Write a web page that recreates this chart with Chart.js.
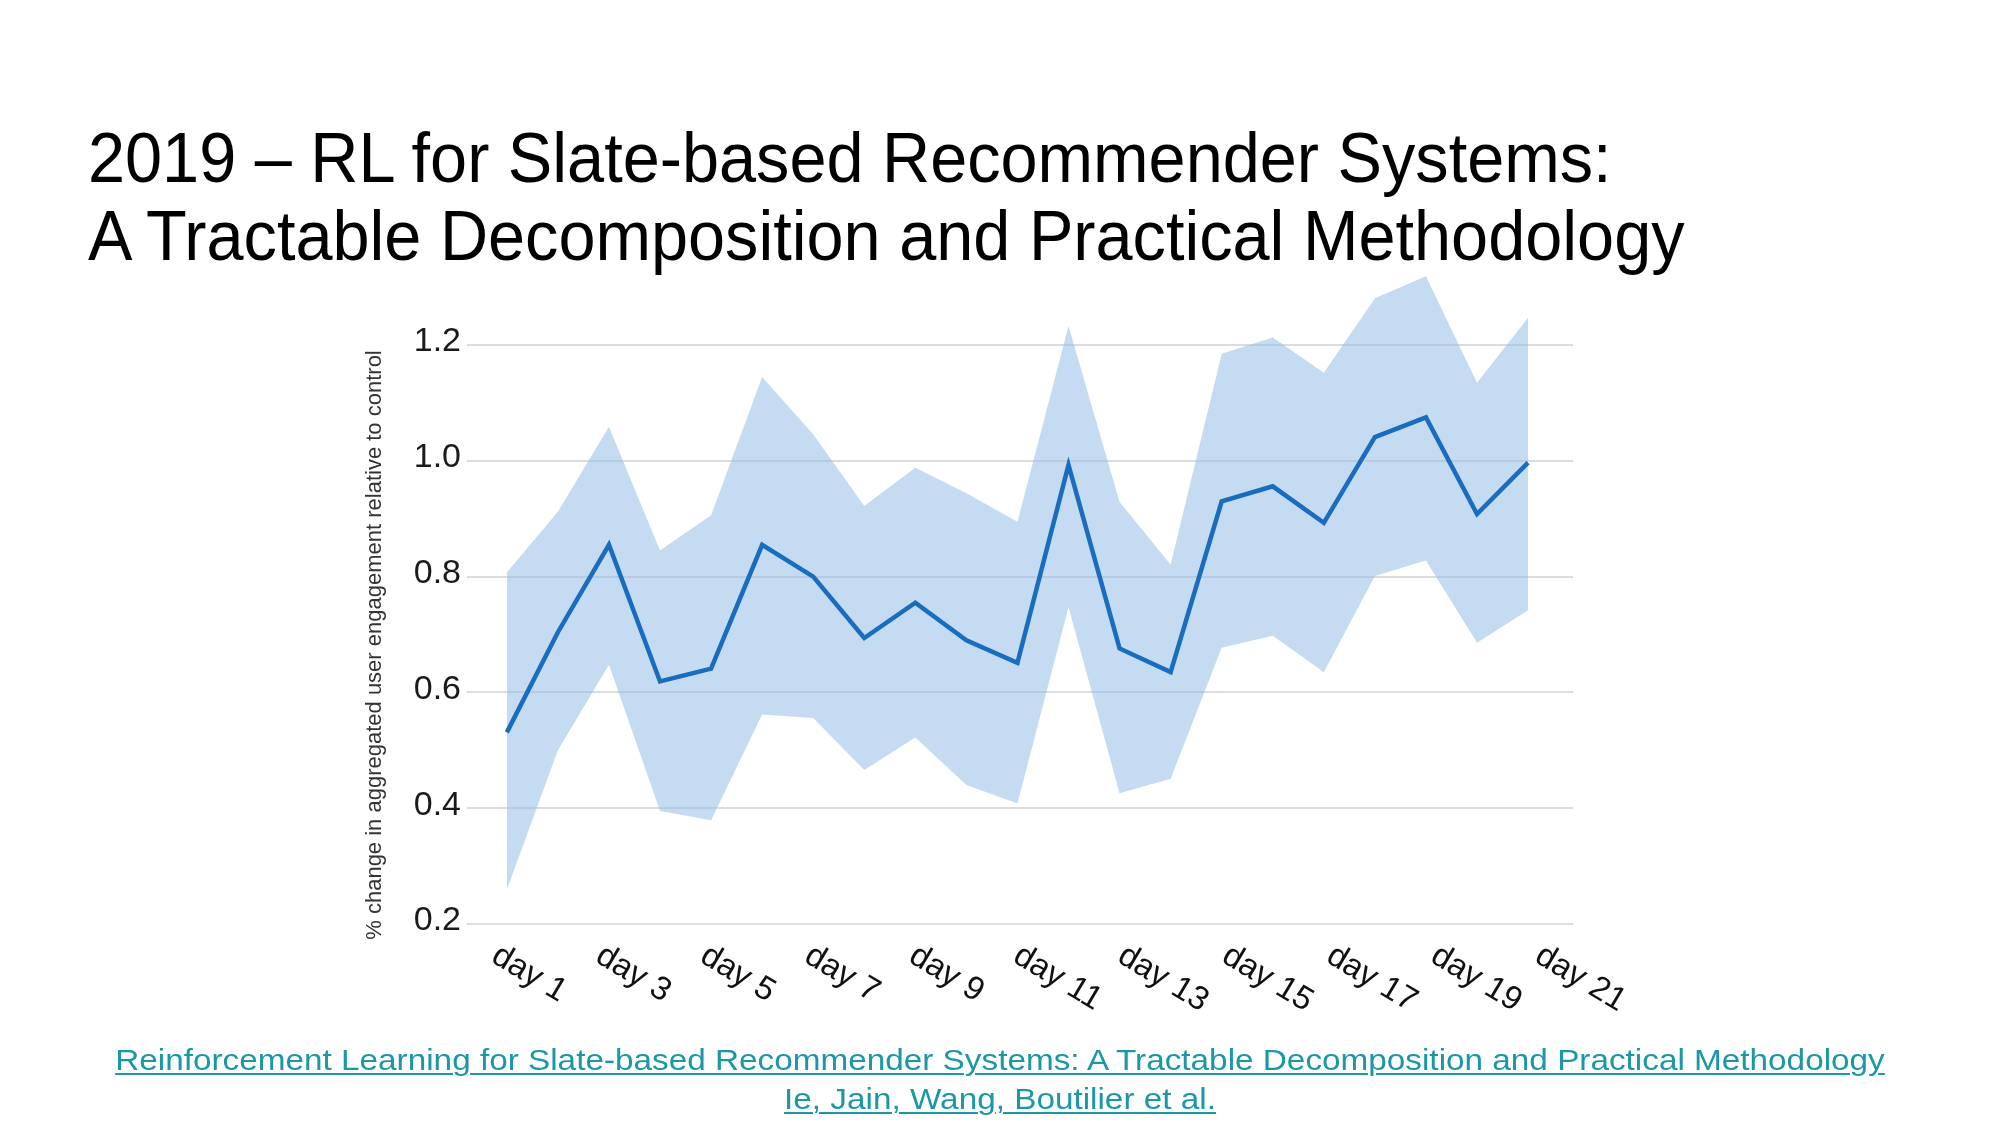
<!DOCTYPE html>
<html>
<head>
<meta charset="utf-8">
<script src="https://cdn.jsdelivr.net/npm/chart.js@4.4.1/dist/chart.umd.min.js"></script>
<style>
  html, body { margin: 0; padding: 0; background: #ffffff; }
  body { width: 2000px; height: 1125px; position: relative; overflow: hidden; font-family: "Liberation Sans", Arial, sans-serif; }
  #title { position: absolute; left: 88px; top: 119px; margin: 0; font-weight: normal; font-size: 70px; line-height: 78px; color: #000; white-space: nowrap; transform: scaleX(0.952); transform-origin: 0 0; }
  #chart { position: absolute; left: 0; top: 0; }
  #footer { position: absolute; left: -5px; width: 2010px; top: 1040px; text-align: center; font-size: 30px; line-height: 39px; color: #1b97a6; white-space: nowrap; transform: scaleX(1.11); transform-origin: 1005px 0; }
  #footer span { text-decoration: underline; text-decoration-thickness: 2px; text-underline-offset: 3px; }
</style>
</head>
<body>
<h1 id="title">2019 – RL for Slate-based Recommender Systems:<br>A Tractable Decomposition and Practical Methodology</h1>
<canvas id="chart" width="2000" height="1125"></canvas>
<div id="footer"><span>Reinforcement Learning for Slate-based Recommender Systems: A Tractable Decomposition and Practical Methodology</span><br><span>Ie, Jain, Wang, Boutilier et al.</span></div>
<script>
// ---- data ----
const days = [1,2,3,4,5,6,7,8,9,10,11,12,13,14,15,16,17,18,19,20,21];
const meanValues  = [0.531,0.704,0.855,0.619,0.641,0.855,0.800,0.694,0.755,0.690,0.651,0.993,0.676,0.635,0.930,0.956,0.893,1.041,1.075,0.908,0.997];
const upperValues = [0.807,0.912,1.059,0.845,0.906,1.145,1.046,0.922,0.988,0.944,0.895,1.233,0.929,0.821,1.185,1.213,1.152,1.281,1.319,1.135,1.247];
const lowerValues = [0.259,0.500,0.648,0.395,0.379,0.562,0.556,0.466,0.522,0.440,0.408,0.747,0.426,0.451,0.677,0.698,0.635,0.801,0.828,0.686,0.742];
const xTickDays   = [1,3,5,7,9,11,13,15,17,19,21];
const xTickLabels = ["day 1","day 3","day 5","day 7","day 9","day 11","day 13","day 15","day 17","day 19","day 21"];
const yTickValues = [0.2,0.4,0.6,0.8,1.0,1.2];
const yAxisTitle  = "% change in aggregated user engagement relative to control";

const toPts = arr => arr.map((v, i) => ({ x: days[i], y: v }));

const FONT = '"Liberation Sans", Arial, sans-serif';
// the reference's rotated day labels sit on a slightly wider spacing than the data
const labelShift = -0.078, labelSpread = 1.022;

const labelPlugin = {
  id: 'customLabels',
  afterDraw(chart) {
    const ctx = chart.ctx;
    const xs = chart.scales.x;
    const area = chart.chartArea;
    ctx.save();
    ctx.fillStyle = '#111111';
    ctx.font = '33px ' + FONT;
    ctx.textAlign = 'left';
    ctx.textBaseline = 'top';
    xTickDays.forEach((d, i) => {
      const px = xs.getPixelForValue(1 + labelShift + (d - 1) * labelSpread);
      ctx.save();
      ctx.translate(px, area.bottom + 15);
      ctx.rotate(31 * Math.PI / 180);
      ctx.fillText(xTickLabels[i], 0, 0);
      ctx.restore();
    });
    // y axis title
    ctx.save();
    ctx.fillStyle = '#333333';
    ctx.font = '22px ' + FONT;
    ctx.textAlign = 'center';
    ctx.textBaseline = 'middle';
    ctx.translate(area.left - 92, 645);
    ctx.rotate(-Math.PI / 2);
    ctx.fillText(yAxisTitle, 0, 0);
    ctx.restore();
    ctx.restore();
  }
};

new Chart(document.getElementById('chart'), {
  type: 'line',
  data: {
    datasets: [
      { label: 'lower', order: 2, data: toPts(lowerValues), borderWidth: 0, pointRadius: 0, fill: false, borderColor: 'rgba(0,0,0,0)' },
      { label: 'upper', order: 1, data: toPts(upperValues), borderWidth: 0, pointRadius: 0, fill: '-1', borderColor: 'rgba(0,0,0,0)', backgroundColor: 'rgba(150,190,232,0.55)' },
      { label: 'mean', order: 0, data: toPts(meanValues), borderWidth: 4.5, pointRadius: 0, fill: false, borderColor: '#1a6cbf', tension: 0 }
    ]
  },
  options: {
    responsive: false,
    devicePixelRatio: 1,
    animation: false,
    layout: { padding: { left: 367, right: 427, top: 264, bottom: 201 } },
    plugins: { legend: { display: false }, tooltip: { enabled: false }, title: { display: false } },
    scales: {
      x: { type: 'linear', min: 0.22, max: 21.88, display: false },
      y: {
        type: 'linear', min: 0.2, max: 1.34,
        border: { display: false },
        grid: { color: '#dcdcdc', lineWidth: 2, drawTicks: false },
        afterBuildTicks(scale) { scale.ticks = yTickValues.map(v => ({ value: v })); },
        afterFit(scale) { scale.width = 100; },
        ticks: {
          padding: 6,
          labelOffset: -3,
          color: '#1a1a1a',
          font: { family: FONT, size: 34 },
          callback: v => Number(v).toFixed(1)
        }
      }
    }
  },
  plugins: [labelPlugin]
});
</script>
</body>
</html>
